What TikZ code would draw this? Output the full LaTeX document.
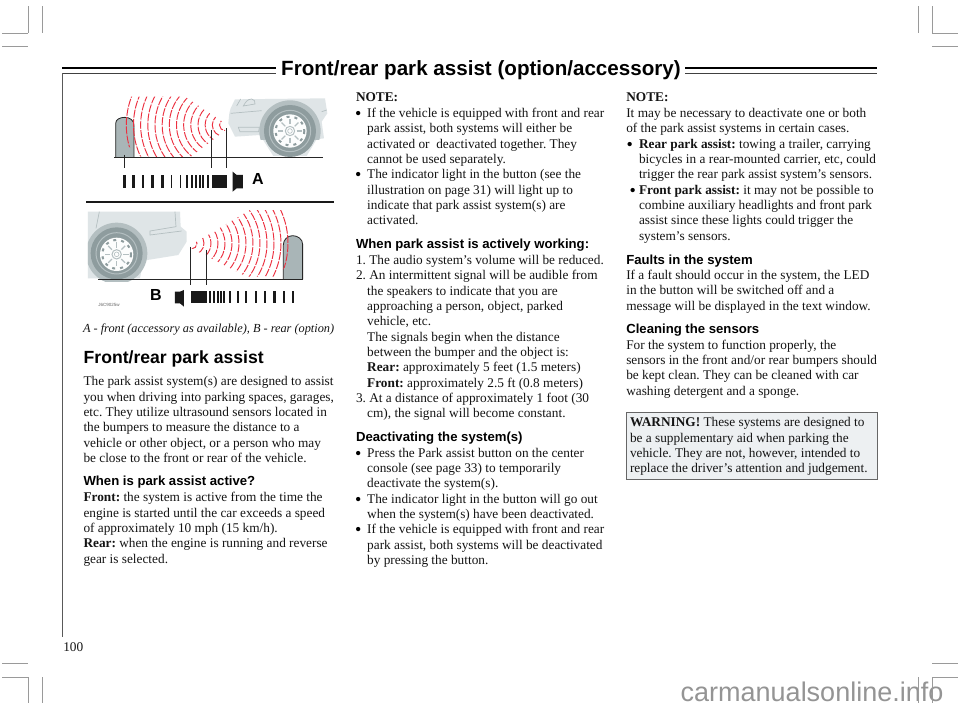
\documentclass[tikz,border=0pt]{standalone}
\usepackage{fontspec}
\setmainfont{Liberation Serif}
\newfontfamily\hsf{Liberation Sans}
\newcounter{tln}
\definecolor{wavered}{HTML}{EC3040}
\definecolor{carbody}{HTML}{DFE5E7}
\definecolor{cardark}{HTML}{8E9C9E}
\definecolor{carmid}{HTML}{B4BFC1}
\definecolor{postgray}{HTML}{A9B5B7}
\definecolor{cropgray}{HTML}{9A9A9A}
\definecolor{boxgray}{HTML}{EDF0F2}
\tikzset{
 tline/.style={anchor=base west,inner sep=0pt,outer sep=0pt,font=\frenchspacing\fontsize{13.3}{16}\selectfont,text=black!92},
 thead/.style={anchor=base west,inner sep=0pt,outer sep=0pt,font=\hsf\bfseries\fontsize{13.15}{16}\selectfont},
 bulmark/.style={anchor=base west,inner sep=0pt,outer sep=0pt,font=\fontsize{18}{18}\selectfont,xshift=-3.15pt,yshift=-2pt},
 crop/.style={draw=cropgray,line width=.7pt},
 wave/.style={draw=wavered,line width=.95pt,dash pattern=on 8pt off 1.3pt},
 tick/.style={draw=black!85,line width=.8pt},
 bar/.style={fill=black!90,draw=none}
}
\newcommand{\tl}[3]{\stepcounter{tln}\node[tline] (t\arabic{tln}) at (#1,#2) {#3};}
\newcommand{\hd}[3]{\stepcounter{tln}\node[thead] (t\arabic{tln}) at (#1,#2) {#3};}
\newcommand{\bul}[2]{\stepcounter{tln}\node[bulmark] (t\arabic{tln}) at (#1,#2) {\textbullet};}
\begin{document}
\begin{tikzpicture}[x=1pt,y=-1pt]
\useasboundingbox (0,0) rectangle (960,710);
\fill[white] (0,0) rectangle (960,710);
% watermark
\node[anchor=base west,inner sep=0pt,text=black!42,font=\hsf\fontsize{27}{28}\selectfont] (wm) at (680.5,701) {carmanualsonline.info};
% crop marks
\foreach \a/\b/\c/\d in {2/33/28/33,28/6/28/33,42/6/42/33,2/46/28/46,
 918/6/918/33,932/6/932/33,932/33/958/33,932/46/958/46,
 2/663/28/663,2/677/28/677,28/677/28/703,42/677/42/703,
 932/663/958/663,932/677/958/677,918/677/918/703,932/677/932/703}
 \draw[crop] (\a,\b) -- (\c,\d);
% title rules
\draw[line width=2.6pt] (62,68) -- (276,68);
\draw[line width=.9pt,black!75] (62,73) -- (276,73);
\draw[line width=2.6pt] (685,68) -- (877,68);
\draw[line width=.9pt,black!75] (685,73) -- (877,73);
\draw[line width=1pt,black!65] (62,73) -- (62,637);
\node[anchor=base west,inner sep=0pt,font=\hsf\bfseries\fontsize{20.6}{24}\selectfont] (title) at (281,75) {Front/rear park assist (option/accessory)};
\tl{63.3}{651.7}{100}
% ---------- Picture A
\begin{scope}[shift={(60,80)},x=.3333pt,y=-.3333pt]
 \fill[carbody] (508,100) -- (512,85) -- (525,58) -- (795,55) -- (802,100) -- (785,125) -- (792,175) -- (770,178) -- (740,228) -- (640,228) -- (600,165) -- (525,170) -- (505,130) -- cycle;
 \draw[carmid,line width=.7pt] (530,78) -- (542,57) (550,78) to[out=60,in=180] (575,57) to[out=0,in=70] (585,72) -- cycle;
 \draw[carmid,line width=.7pt] (512,100) -- (605,92) (535,142) -- (598,142) -- (596,155) -- (540,155) -- cycle (785,95) -- (800,90);
 \begin{scope}
  \clip (570,40) rectangle (800,180);
  \fill[carmid] (690,153) circle[radius=92];
 \end{scope}
 \fill[cardark] (690,153) circle[radius=78];
 \draw[carmid,line width=1pt] (690,153) circle[radius=62];
 \fill[white!92!carbody] (690,153) circle[radius=50];
 \draw[cardark,line width=2pt,dash pattern=on 3pt off 5pt] (690,153) circle[radius=43];
 \foreach \t in {0,45,...,315} \draw[carmid,line width=1.2pt] (690,153) ++(\t:20pt*.3333) -- ++(\t:16pt*.3333);
 \draw[carmid,line width=1pt] (690,153) circle[radius=14];
 \draw[carmid,line width=.6pt] (690,153) circle[radius=7];
 % post
 \fill[postgray] (167,232) -- (167,130) to[out=90,in=180] (195,112) to[out=0,in=90] (222,135) -- (222,232) -- cycle;
 \draw[black!85,line width=.8pt] (167,232) -- (167,130) to[out=90,in=180] (195,112) to[out=0,in=90] (222,135) -- (222,232);
 % waves
 \begin{scope}
  \clip (510,140) -- (375,50) -- (195,50) -- (195,190) -- (245,232) -- (390,232) -- cycle;
  \foreach \k in {1,...,14}{
   \pgfmathsetmacro{\rr}{17*\k}
   \pgfmathsetmacro{\cx}{500-21.5*\k+\rr}
   \draw[wave,dash phase=\k*2.3pt] (\cx,135) ++(90:\rr*.3333pt) arc[start angle=90,end angle=270,radius=\rr*.3333pt];
  }
 \end{scope}
 \draw[black!85,line width=.9pt] (163,232) -- (788,232);
 % ticks
 \draw[tick] (192,225) -- (192,265);
 \draw[tick] (453,150) -- (453,265);
 \draw[tick] (499,145) -- (499,265);
 % bars
 \foreach \x/\w in {189/9,216/8,245/8,274/8,302/9,332/5,359/4,379/6,393/6,405/6,416/6,427/6,440/6}
  \fill[bar] (\x,285) rectangle ++(\w,40);
 \fill[bar] (455,285) rectangle (502,325);
 \fill[bar] (518,275) -- (518,335) -- (530,325) -- (549,325) -- (549,285) -- (530,285) -- cycle;
\end{scope}
\node[anchor=base,inner sep=0pt,font=\hsf\bfseries\fontsize{16}{18}\selectfont] (labA) at (258,184) {A};
\draw[line width=1.5pt,black!90] (86,202) -- (334,202);
% ---------- Picture B
\begin{scope}[shift={(60,195)},x=.3333pt,y=-.3333pt]
 \begin{scope}
  \clip (84,40) rectangle (400,260);
  \fill[carbody] (84,50) -- (360,50) -- (362,95) -- (380,110) -- (380,140) -- (355,180) -- (250,197) -- (240,250) -- (84,250) -- cycle;
  \draw[carmid,line width=.7pt] (118,50) -- (108,100) (345,50) -- (348,95) -- (270,108) -- (270,120) -- (365,108);
  \fill[carmid] (170,175) circle[radius=92];
  \fill[cardark] (170,175) circle[radius=78];
  \draw[carmid,line width=1pt] (170,175) circle[radius=62];
  \fill[white!92!carbody] (170,178) circle[radius=50];
  \draw[cardark,line width=2pt,dash pattern=on 3pt off 5pt] (170,178) circle[radius=43];
  \foreach \t in {0,45,...,315} \draw[carmid,line width=1.2pt] (170,178) ++(\t:20pt*.3333) -- ++(\t:16pt*.3333);
  \draw[carmid,line width=1pt] (170,178) circle[radius=14];
  \draw[carmid,line width=.6pt] (170,178) circle[radius=7];
 \end{scope}
 % post
 \fill[postgray] (670,253) -- (670,150) to[out=90,in=180] (698,122) to[out=0,in=90] (728,148) -- (728,253) -- cycle;
 \draw[black!85,line width=.8pt] (670,253) -- (670,150) to[out=90,in=180] (698,122) to[out=0,in=90] (728,148) -- (728,253);
 \begin{scope}
  \clip (385,155) -- (570,45) -- (700,45) -- (700,190) -- (650,245) -- (560,245) -- cycle;
  \foreach \k in {1,...,14}{
   \pgfmathsetmacro{\rr}{17*\k}
   \pgfmathsetmacro{\cx}{390+21*\k-\rr}
   \draw[wave,dash phase=\k*1.7pt] (\cx,145) ++(-90:\rr*.3333pt) arc[start angle=-90,end angle=90,radius=\rr*.3333pt];
  }
 \end{scope}
 \draw[black!85,line width=.9pt] (115,253) -- (730,253);
 \draw[tick] (392,155) -- (392,270);
 \draw[tick] (438,165) -- (438,270);
 \fill[bar] (392,287) rectangle (440,325);
 \foreach \x/\w in {447/6,458/6,470/6,480/5,490/6,508/4,530/6,555/6,585/6,612/7,640/7,668/7,695/7}
  \fill[bar] (\x,287) rectangle ++(\w,38);
 \fill[bar] (372,285) -- (372,335) -- (360,325) -- (345,325) -- (345,290) -- (360,290) -- cycle;
\end{scope}
\node[anchor=base,inner sep=0pt,font=\hsf\bfseries\fontsize{16}{18}\selectfont] (labB) at (156,300) {B};
\node[anchor=center,inner sep=0pt,text=black!60,font=\hsf\fontsize{4.5}{5}\selectfont] (code) at (109,305) {J6C9025w};
% ---------- Column 1
\node[tline,font=\frenchspacing\itshape\fontsize{12.3}{16}\selectfont] (cap) at (83,332) {A - front (accessory as available), B - rear (option)};
\node[anchor=base west,inner sep=0pt,font=\hsf\bfseries\fontsize{17.6}{20}\selectfont] (h1) at (83.5,363.3) {Front/rear park assist};
\tl{83.5}{385.7}{The park assist system(s) are designed to assist}
\tl{83.5}{401}{you when driving into parking spaces, garages,}
\tl{83.5}{416.3}{etc. They utilize ultrasound sensors located in}
\tl{83.5}{431.7}{the bumpers to measure the distance to a}
\tl{83.5}{447}{vehicle or other object, or a person who may}
\tl{83.5}{462.3}{be close to the front or rear of the vehicle.}
\hd{83.5}{485.7}{When is park assist active?}
\tl{83.5}{501.7}{\textbf{Front:} the system is active from the time the}
\tl{83.5}{517}{engine is started until the car exceeds a speed}
\tl{83.5}{532.3}{of approximately 10 mph (15 km/h).}
\tl{83.5}{547.7}{\textbf{Rear:} when the engine is running and reverse}
\tl{83.5}{563}{gear is selected.}
% ---------- Column 2
\tl{356}{101.7}{\textbf{NOTE:}}
\bul{358.3}{117.3}\tl{367.2}{117.3}{If the vehicle is equipped with front and rear}
\tl{367.2}{132.7}{park assist, both systems will either be}
\tl{367.2}{148}{activated or\ \ deactivated together. They}
\tl{367.2}{163.3}{cannot be used separately.}
\bul{358.3}{178.7}\tl{367.2}{178.7}{The indicator light in the button (see the}
\tl{367.2}{194}{illustration on page 31) will light up to}
\tl{367.2}{209.3}{indicate that park assist system(s) are}
\tl{367.2}{224.7}{activated.}
\hd{356}{248.3}{When park assist is actively working:}
\tl{356}{264.3}{1. The audio system’s volume will be reduced.}
\tl{356}{279.7}{2. An intermittent signal will be audible from}
\tl{367.2}{295}{the speakers to indicate that you are}
\tl{367.2}{310.3}{approaching a person, object, parked}
\tl{367.2}{325.7}{vehicle, etc.}
\tl{367.2}{341}{The signals begin when the distance}
\tl{367.2}{356.3}{between the bumper and the object is:}
\tl{367.2}{371.7}{\textbf{Rear:} approximately 5 feet (1.5 meters)}
\tl{367.2}{387}{\textbf{Front:} approximately 2.5 ft (0.8 meters)}
\tl{356}{402.3}{3. At a distance of approximately 1 foot (30}
\tl{367.2}{417.7}{cm), the signal will become constant.}
\hd{356}{441.7}{Deactivating the system(s)}
\bul{358.3}{457}\tl{367.2}{457}{Press the Park assist button on the center}
\tl{367.2}{472.3}{console (see page 33) to temporarily}
\tl{367.2}{487.7}{deactivate the system(s).}
\bul{358.3}{503}\tl{367.2}{503}{The indicator light in the button will go out}
\tl{367.2}{518.3}{when the system(s) have been deactivated.}
\bul{358.3}{533.7}\tl{367.2}{533.7}{If the vehicle is equipped with front and rear}
\tl{367.2}{549}{park assist, both systems will be deactivated}
\tl{367.2}{564.3}{by pressing the button.}
% ---------- Column 3
\tl{626.3}{101.7}{\textbf{NOTE:}}
\tl{626.3}{117.3}{It may be necessary to deactivate one or both}
\tl{626.3}{132.7}{of the park assist systems in certain cases.}
\bul{629.7}{148}\tl{639}{148}{\textbf{Rear park assist:} towing a trailer, carrying}
\tl{639}{163.3}{bicycles in a rear-mounted carrier, etc, could}
\tl{639}{178.7}{trigger the rear park assist system’s sensors.}
\bul{632.7}{194}\tl{639}{194}{\textbf{Front park assist:} it may not be possible to}
\tl{639}{209.3}{combine auxiliary headlights and front park}
\tl{639}{224.7}{assist since these lights could trigger the}
\tl{639}{240}{system’s sensors.}
\hd{626.3}{264}{Faults in the system}
\tl{626.3}{279.3}{If a fault should occur in the system, the LED}
\tl{626.3}{294.7}{in the button will be switched off and a}
\tl{626.3}{310}{message will be displayed in the text window.}
\hd{626.3}{333.7}{Cleaning the sensors}
\tl{626.3}{349}{For the system to function properly, the}
\tl{626.3}{364.3}{sensors in the front and/or rear bumpers should}
\tl{626.3}{379.7}{be kept clean. They can be cleaned with car}
\tl{626.3}{395}{washing detergent and a sponge.}
% warning box
\draw[fill=boxgray,draw=black!60,line width=.8pt] (626,412) rectangle (877,479);
\tl{630}{426.7}{\textbf{WARNING!} These systems are designed to}
\tl{630}{442}{be a supplementary aid when parking the}
\tl{630}{457}{vehicle. They are not, however, intended to}
\tl{630}{472}{replace the driver’s attention and judgement.}
\end{tikzpicture}
\end{document}
